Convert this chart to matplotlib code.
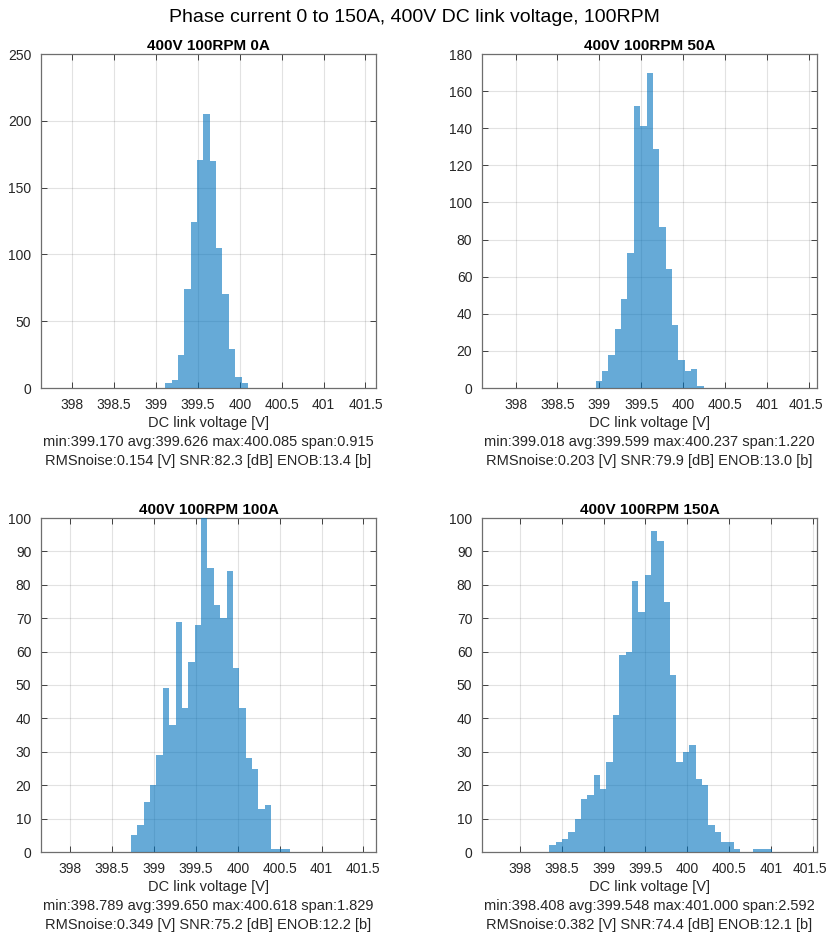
import numpy as np
import matplotlib
matplotlib.use("Agg")
import matplotlib.pyplot as plt
import matplotlib.transforms as mtransforms
from matplotlib.ticker import MultipleLocator

plt.rcParams['font.family'] = ['Liberation Sans', 'DejaVu Sans']

# ---------------- data ----------------
suptitle = "Phase current 0 to 150A, 400V DC link voltage, 100RPM"
titles = ["400V 100RPM 0A", "400V 100RPM 50A", "400V 100RPM 100A", "400V 100RPM 150A"]
bin_width = 0.076

start_0A = 399.109
counts_0A = [4, 6, 25, 74, 124, 171, 205, 170, 105, 70, 29, 8, 4]

start_50A = 398.956
counts_50A = [4, 9, 18, 32, 48, 73, 152, 141, 170, 129, 87, 64, 34, 15, 9, 10, 1]

start_100A = 398.725
counts_100A = [5, 8, 15, 20, 29, 49, 38, 69, 43, 57, 68, 100, 85, 74, 70, 84, 55,
               43, 28, 25, 13, 14, 1, 1, 1]

start_150A = 398.350
counts_150A = [2, 3, 4, 6, 10, 16, 17, 23, 19, 27, 41, 59, 60, 81, 72, 83, 96, 93,
               75, 53, 27, 30, 32, 22, 20, 8, 6, 3, 3, 1, 0, 0, 1, 1, 1]

averages = [399.626, 399.599, 399.650, 399.548]
ymax = [250, 180, 100, 100]
ystep = [50, 20, 10, 10]
xticks = [398, 398.5, 399, 399.5, 400, 400.5, 401, 401.5]
xtick_labels = ["398", "398.5", "399", "399.5", "400", "400.5", "401", "401.5"]
xlabel_text = "DC link voltage [V]"
stats_lines = [
    ["min:399.170 avg:399.626 max:400.085 span:0.915",
     "RMSnoise:0.154 [V] SNR:82.3 [dB] ENOB:13.4 [b]"],
    ["min:399.018 avg:399.599 max:400.237 span:1.220",
     "RMSnoise:0.203 [V] SNR:79.9 [dB] ENOB:13.0 [b]"],
    ["min:398.789 avg:399.650 max:400.618 span:1.829",
     "RMSnoise:0.349 [V] SNR:75.2 [dB] ENOB:12.2 [b]"],
    ["min:398.408 avg:399.548 max:401.000 span:2.592",
     "RMSnoise:0.382 [V] SNR:74.4 [dB] ENOB:12.1 [b]"],
]
starts = [start_0A, start_50A, start_100A, start_150A]
counts_all = [counts_0A, counts_50A, counts_100A, counts_150A]

# ---------------- figure ----------------
W, H = 828, 934
fig = plt.figure(figsize=(W / 100, H / 100), dpi=100)
fig.patch.set_facecolor('white')

TXT = '#262626'
boxes = [(41, 54, 376, 388), (482, 54, 817, 388),
         (41, 518, 376, 852), (482, 518, 817, 852)]

fig.text(0.5, 1 - 17 / H, suptitle, ha='center', va='center', fontsize=14, color='black')

for i in range(4):
    l, t, r, b = boxes[i]
    ax = fig.add_axes([l / W, 1 - b / H, (r - l) / W, (b - t) / H])
    c = np.array(counts_all[i], dtype=float)
    edges = starts[i] + bin_width * np.arange(len(c) + 1)
    ax.bar(edges[:-1], c, width=bin_width, align='edge',
           color=(0, 0.447, 0.741), alpha=0.6, linewidth=0, zorder=3)
    ax.set_xlim(averages[i] - 2, averages[i] + 2)
    ax.set_ylim(0, ymax[i])
    ax.yaxis.set_major_locator(MultipleLocator(ystep[i]))
    ax.set_xticks(xticks)
    ax.set_xticklabels(xtick_labels)
    ax.set_axisbelow(True)
    ax.grid(True, color=(0.15, 0.15, 0.15), alpha=0.13, linewidth=0.8, zorder=0)
    ax.tick_params(direction='in', length=4, width=0.6, colors=TXT,
                   labelsize=10, top=True, right=True, pad=7)
    for sp in ax.spines.values():
        sp.set_color('#6e6e6e')
        sp.set_linewidth(0.9)
    ax.set_title(titles[i], fontsize=11, fontweight='bold', color='black', pad=3)
    ax.set_xlabel(xlabel_text + "\n" + stats_lines[i][0] + "\n" + stats_lines[i][1],
                  fontsize=10.5, color=TXT, linespacing=1.45, labelpad=3)
    if i % 2 == 1:
        lab = ax.get_xticklabels()[-1]
        lab.set_transform(lab.get_transform() +
                          mtransforms.ScaledTranslation(-3 / 100, 0, fig.dpi_scale_trans))

fig.savefig("out.png", dpi=100, facecolor='white')
